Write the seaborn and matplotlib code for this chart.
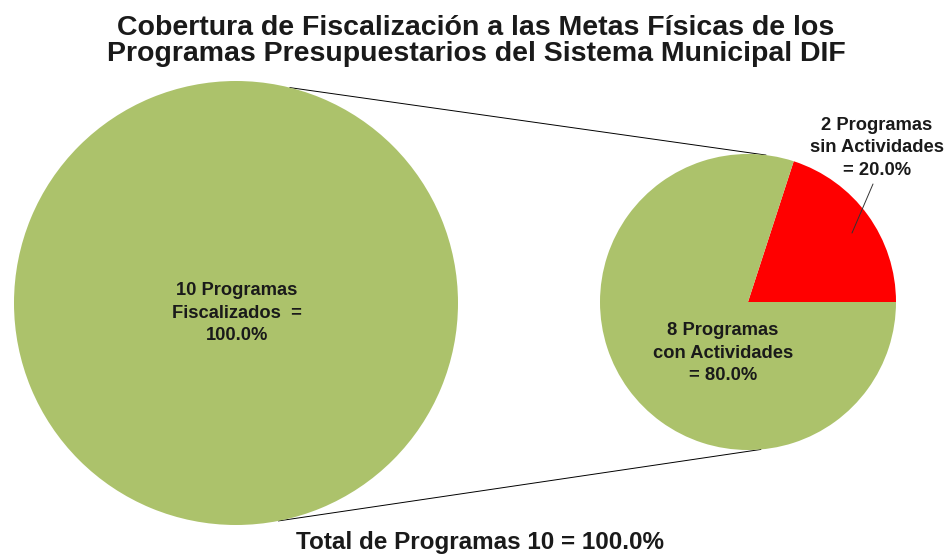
import numpy as np
import matplotlib
matplotlib.use("Agg")
import matplotlib.pyplot as plt
import seaborn as sns

# data
titulo_1 = "Cobertura de Fiscalización a las Metas Físicas de los"
titulo_2 = "Programas Presupuestarios del Sistema Municipal DIF"
total_label = "Total de Programas 10 = 100.0%"
main_values = [10]
main_labels = ["10 Programas\nFiscalizados  =\n100.0%"]
detail_values = [2, 8]
detail_labels = ["2 Programas\nsin Actividades\n= 20.0%", "8 Programas\ncon Actividades\n= 80.0%"]

sns.set_theme(style="white")
plt.rcParams['font.family'] = ['Liberation Sans', 'DejaVu Sans']

green = "#acc26b"
red = "#ff0000"

W, H = 946, 555
fig = plt.figure(figsize=(W / 100, H / 100), dpi=100)
ax = fig.add_axes([0, 0, 1, 1])
ax.set_xlim(0, W)
ax.set_ylim(0, H)
ax.set_aspect("equal")
ax.axis("off")

# pie geometry (pixel space, y up)
c_big, r_big = (236, 252), 222
c_small, r_small = (748, 253), 148

ax.pie(main_values, colors=[green], center=c_big, radius=r_big,
       startangle=90, wedgeprops=dict(linewidth=0))
ax.pie(detail_values, colors=[red, green], center=c_small, radius=r_small,
       startangle=0, counterclock=True, wedgeprops=dict(linewidth=0))
ax.set_xlim(0, W)
ax.set_ylim(0, H)


def on_circle(c, r, deg):
    a = np.deg2rad(deg)
    return c[0] + r * np.cos(a), c[1] + r * np.sin(a)


# connector lines between the two pies
for a_big, a_small in [(76, 83), (-79, -85)]:
    x0, y0 = on_circle(c_big, r_big, a_big)
    x1, y1 = on_circle(c_small, r_small, a_small)
    ax.plot([x0, x1], [y0, y1], color="black", lw=0.7, zorder=0)

txt = dict(ha="center", va="center", fontsize=13.2, fontweight="bold",
           color="#1a1a1a", linespacing=1.4)
ax.text(237, H - 313, main_labels[0], **txt)
ax.text(723, H - 353, detail_labels[1], **txt)
ax.text(877, H - 148, detail_labels[0], **txt)

# leader line for the small slice
ax.plot([873, 852], [H - 184, H - 233], color="#333333", lw=0.7)

ttl = dict(ha="center", va="baseline", fontsize=20.5, fontweight="bold", color="#1a1a1a")
ax.text(476, H - 35, titulo_1, **ttl)
ax.text(476, H - 61, titulo_2, **ttl)
ax.text(480, H - 549, total_label, ha="center", va="baseline", fontsize=17.5,
        fontweight="bold", color="#1a1a1a")

fig.savefig("out.png", dpi=100)
